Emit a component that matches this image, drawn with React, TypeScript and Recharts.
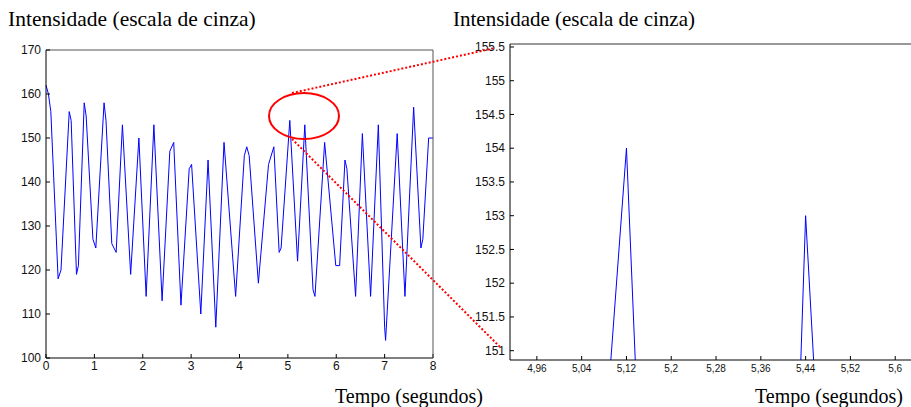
import { LineChart, Line, XAxis, YAxis } from "recharts";

// intensity trace (seconds, gray level)
const timeSec = [
  0.0, 0.05, 0.1, 0.25, 0.31, 0.48, 0.52, 0.63, 0.67, 0.79, 0.83, 0.97, 1.03, 1.2, 1.24, 1.36,
  1.45, 1.58, 1.75, 1.92, 2.07, 2.23, 2.4, 2.56, 2.64, 2.79, 2.96, 3.01, 3.2, 3.35, 3.51, 3.68,
  3.92, 4.1, 4.15, 4.2, 4.39, 4.6, 4.71, 4.82, 4.86, 5.04, 5.2, 5.35, 5.52, 5.56, 5.76, 5.99,
  6.07, 6.18, 6.22, 6.4, 6.54, 6.71, 6.87, 7.0, 7.02, 7.26, 7.42, 7.6, 7.75, 7.79, 7.91, 8.0,
];
const intensity = [
  162, 160, 156, 118, 120, 156, 154, 119, 121, 158, 155, 127, 125, 158, 154, 126,
  124, 153, 119, 150, 114, 153, 113, 147, 149, 112, 143, 144, 110, 145, 107, 149,
  114, 146, 148, 146, 117, 144, 148, 124, 125, 154, 122, 153, 115.5, 114, 149, 121,
  121, 145, 143, 114, 151, 114, 153, 107, 104, 151, 114, 157, 125, 127, 150, 150,
];

// zoomed samples (25 fps) around the two peaks
const zoomTime = [5.04, 5.08, 5.12, 5.16, 5.2, 5.36, 5.4, 5.44, 5.48, 5.52];
const zoomIntensity = [140, 149.5, 154, 146, 125, 135, 143, 153, 147, 135];

const mainXTicks = [0, 1, 2, 3, 4, 5, 6, 7, 8];
const mainYTicks = [100, 110, 120, 130, 140, 150, 160, 170];
const zoomXTicks = [4.96, 5.04, 5.12, 5.2, 5.28, 5.36, 5.44, 5.52, 5.6];
const zoomYTicks = [151, 151.5, 152, 152.5, 153, 153.5, 154, 154.5, 155, 155.5];

const mainData = timeSec.map((t, i) => ({ t, v: intensity[i] }));
const zoomData = zoomTime.map((t, i) => ({ t, v: zoomIntensity[i] }));

const tickFont = { fontSize: 12, fill: "#111", fontFamily: "Liberation Sans, Arial, sans-serif" };
const serif = "Liberation Serif, 'Times New Roman', serif";

const fmtComma = (v: number) => v.toFixed(2).replace(/0$/, "").replace(".", ",");

export default function App() {
  return (
    <div style={{ position: "relative", width: 911, height: 407, overflow: "hidden", background: "#fff" }}>
      <style>{`body{margin:0}`}</style>

      <div style={{ position: "absolute", left: 0, top: 0 }}>
        <LineChart width={440} height={380} data={mainData} margin={{ top: 49, right: 6, bottom: 0, left: 0 }}>
          <XAxis
            dataKey="t"
            type="number"
            domain={[0, 8]}
            ticks={mainXTicks}
            tick={tickFont}
            tickSize={-4}
            tickMargin={7}
            height={22}
            stroke="#000"
            interval={0}
          />
          <XAxis
            xAxisId="top"
            orientation="top"
            dataKey="t"
            type="number"
            domain={[0, 8]}
            ticks={mainXTicks}
            tick={false}
            tickSize={-4}
            height={1}
            stroke="#555"
          />
          <YAxis
            type="number"
            domain={[100, 170]}
            ticks={mainYTicks}
            tick={tickFont}
            tickSize={-4}
            tickMargin={9}
            width={46}
            stroke="#000"
            interval={0}
          />
          <YAxis
            yAxisId="right"
            orientation="right"
            type="number"
            domain={[100, 170]}
            ticks={mainYTicks}
            tick={false}
            tickSize={-4}
            width={1}
            stroke="#555"
          />
          <Line dataKey="v" type="linear" stroke="#0000ff" strokeWidth={1} dot={false} isAnimationActive={false} />
        </LineChart>
      </div>

      <div style={{ position: "absolute", left: 460, top: 0 }}>
        <LineChart width={453} height={382} data={zoomData} margin={{ top: 43, right: 0, bottom: 0, left: 0 }}>
          <XAxis
            dataKey="t"
            type="number"
            domain={[4.912, 5.63]}
            allowDataOverflow
            ticks={zoomXTicks}
            tick={{ ...tickFont, fontSize: 10 }}
            tickFormatter={fmtComma}
            tickSize={-4}
            tickMargin={9}
            height={22}
            stroke="#000"
            interval={0}
          />
          <XAxis
            xAxisId="top"
            orientation="top"
            dataKey="t"
            type="number"
            domain={[4.912, 5.63]}
            allowDataOverflow
            ticks={zoomXTicks}
            tick={false}
            tickSize={-4}
            height={1}
            stroke="#333"
          />
          <YAxis
            type="number"
            domain={[150.862, 155.544]}
            allowDataOverflow
            ticks={zoomYTicks}
            tick={tickFont}
            tickSize={-4}
            tickMargin={9}
            width={50}
            stroke="#000"
            interval={0}
          />
          <YAxis
            yAxisId="right"
            orientation="right"
            type="number"
            domain={[150.862, 155.544]}
            allowDataOverflow
            ticks={zoomYTicks}
            tick={false}
            tickSize={-4}
            width={1}
            stroke="#333"
          />
          <Line dataKey="v" type="linear" stroke="#0000ff" strokeWidth={1} dot={false} isAnimationActive={false} />
        </LineChart>
      </div>

      <svg width={911} height={407} style={{ position: "absolute", left: 0, top: 0, pointerEvents: "none" }}>
        <ellipse cx={304} cy={116} rx={35} ry={23} fill="none" stroke="#ff0000" strokeWidth={2} />
        <line x1={292} y1={93} x2={495} y2={48} stroke="#ff0000" strokeWidth={2} strokeDasharray="2 2" />
        <line x1={292} y1={139} x2={500} y2={347} stroke="#ff0000" strokeWidth={2} strokeDasharray="2 2" />
        <text x={8} y={26} fontFamily={serif} fontSize={21.5} fill="#000">Intensidade (escala de cinza)</text>
        <text x={453} y={26} fontFamily={serif} fontSize={21} fill="#000">Intensidade (escala de cinza)</text>
        <text x={335} y={403} fontFamily={serif} fontSize={20} fill="#000">Tempo (segundos)</text>
        <text x={755} y={403} fontFamily={serif} fontSize={20} fill="#000">Tempo (segundos)</text>
      </svg>
    </div>
  );
}
